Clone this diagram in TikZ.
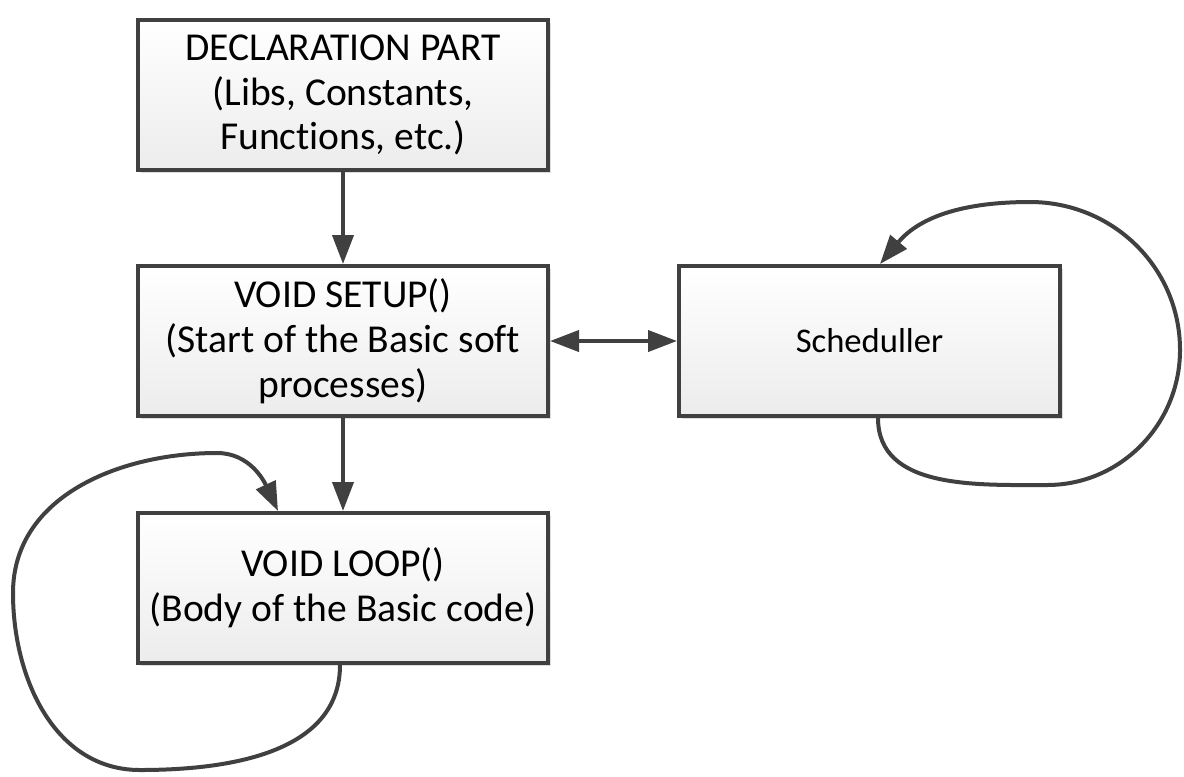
\documentclass[tikz,border=0pt]{standalone}
\usepackage{fontspec}
\setmainfont{Carlito}[Ligatures=NoCommon]
\usetikzlibrary{positioning, arrows.meta, shadows}
\definecolor{LineColor}{RGB}{64,64,64}
\definecolor{BoxTop}{RGB}{255,255,255}
\definecolor{BoxBottom}{RGB}{236,236,236}
\definecolor{ShadowColor}{RGB}{200,200,200}
\tikzstyle{block} = [rectangle, draw=LineColor, line width=0.08cm, top color=BoxTop, bottom color=BoxBottom, minimum width=8.2cm, minimum height=3.0cm, align=center, font=\fontsize{22.5}{25.5}\selectfont, drop shadow={shadow xshift=0.06cm, shadow yshift=-0.06cm, fill=ShadowColor, opacity=0.6}]
\tikzstyle{flow} = [line width=0.08cm, LineColor, -{Triangle[length=0.58cm, width=0.42cm]}]
\tikzstyle{twoway} = [line width=0.08cm, LineColor, {Triangle[length=0.58cm, width=0.42cm]}-{Triangle[length=0.58cm, width=0.42cm]}]

\begin{document}
\begin{tikzpicture}
    \useasboundingbox (0,0) rectangle (23.68,-15.52);

    % Program parts
    \node[block] (decl) at (6.86,-1.9) {DECLARATION PART\\(Libs, Constants,\\Functions, etc.)};
    \node[block, below=1.84cm of decl] (setup) {VOID SETUP()\\(Start of the Basic soft\\processes)};
    \node[block, below=1.86cm of setup] (loop) {VOID LOOP()\\(Body of the Basic code)};

    % Scheduler
    \node[block, minimum width=7.62cm, font=\fontsize{19.7}{23}\selectfont, right=2.54cm of setup] (sched) {Scheduller};

    % Main flow
    \draw[flow] (decl) -- (setup);
    \draw[flow] (setup) -- (loop);
    \draw[twoway] (setup) -- (sched);

    % Scheduler repeats itself
    \draw[flow] ([xshift=0.17cm]sched.south) to[out=-90,in=180] (20.94,-9.7) to[out=0,in=-90] (23.6,-7.0) to[out=90,in=0] (20.6,-4.04) to[out=180,in=50] ([xshift=0.21cm]sched.north);

    % Loop repeats itself
    \draw[flow] ([xshift=-0.06cm]loop.south) to[out=-90,in=0] (2.8,-15.4) to[out=180,in=-90] (0.26,-11.86) to[out=90,in=180] (4.34,-9.06) to[out=0,in=115] ([xshift=-1.3cm]loop.north);
\end{tikzpicture}
\end{document}
